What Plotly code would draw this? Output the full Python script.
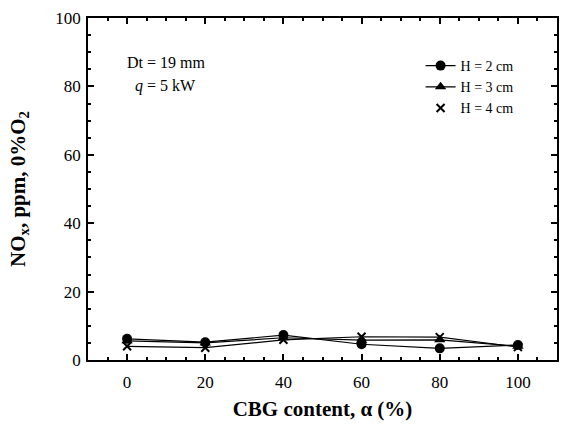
import plotly.graph_objects as go

cbg = [0, 20, 40, 60, 80, 100]
h2 = [6.2, 5.2, 7.3, 4.6, 3.4, 4.4]
h3 = [5.6, 5.0, 6.5, 5.8, 5.9, 4.0]
h4 = [4.0, 3.6, 5.9, 6.8, 6.7, 3.8]
names = ["H = 2 cm", "H = 3 cm", "H = 4 cm"]

FONT = "Liberation Serif"

fig = go.Figure()
fig.add_trace(go.Scatter(x=cbg, y=h2, mode="lines+markers", name=names[0],
                         line=dict(color="black", width=1.2),
                         marker=dict(symbol="circle", size=10, color="black")))
fig.add_trace(go.Scatter(x=cbg, y=h3, mode="lines+markers", name=names[1],
                         line=dict(color="black", width=1.2),
                         marker=dict(symbol="triangle-up", size=10, color="black")))
fig.add_trace(go.Scatter(x=cbg, y=h4, mode="lines", showlegend=False,
                         line=dict(color="black", width=1.2)))
fig.add_trace(go.Scatter(x=cbg, y=h4, mode="markers", name=names[2],
                         marker=dict(symbol="x-thin", size=8, color="black",
                                     line=dict(color="black", width=2))))

axis_common = dict(showline=True, linecolor="black", linewidth=1.5, mirror="allticks",
                   ticks="inside", ticklen=6, tickwidth=1.5, tickcolor="black",
                   showgrid=False, zeroline=False,
                   tickfont=dict(family=FONT, size=17, color="black"),
                   minor=dict(ticks="inside", ticklen=3, tickwidth=1.5, tickcolor="black", dtick=5))

fig.update_xaxes(range=[-10, 110], tick0=0, dtick=20, ticklabelstandoff=6,
                 title=dict(text="<b>CBG content, α (%)</b>", font=dict(family=FONT, size=21, color="black"), standoff=10),
                 **axis_common)
fig.update_yaxes(range=[0, 100], tick0=0, dtick=20, ticklabelstandoff=2,
                 title=dict(text="<b>NO<sub>x</sub>, ppm, 0%O<sub>2</sub></b>", font=dict(family=FONT, size=21, color="black"), standoff=24),
                 **axis_common)

fig.add_annotation(x=(125 - 88) / 471, y=(360 - 63) / 342, xref="paper", yref="paper",
                   text="Dt = 19 mm", showarrow=False, xanchor="left", yanchor="middle",
                   font=dict(family=FONT, size=16, color="black"))
fig.add_annotation(x=(133 - 88) / 471, y=(360 - 86) / 342, xref="paper", yref="paper",
                   text="<i>q</i> = 5 kW", showarrow=False, xanchor="left", yanchor="middle",
                   font=dict(family=FONT, size=16, color="black"))

fig.update_layout(
    width=561, height=430,
    margin=dict(l=88, r=2, t=18, b=70),
    paper_bgcolor="white", plot_bgcolor="white",
    font=dict(family=FONT, size=14, color="black"),
    legend=dict(x=(422 - 88) / 471, y=(360 - 50) / 342, xanchor="left", yanchor="top",
                bgcolor="rgba(0,0,0,0)", font=dict(family=FONT, size=14, color="black"),
                tracegroupgap=0, itemwidth=30),
)

fig.write_html("out.html")
